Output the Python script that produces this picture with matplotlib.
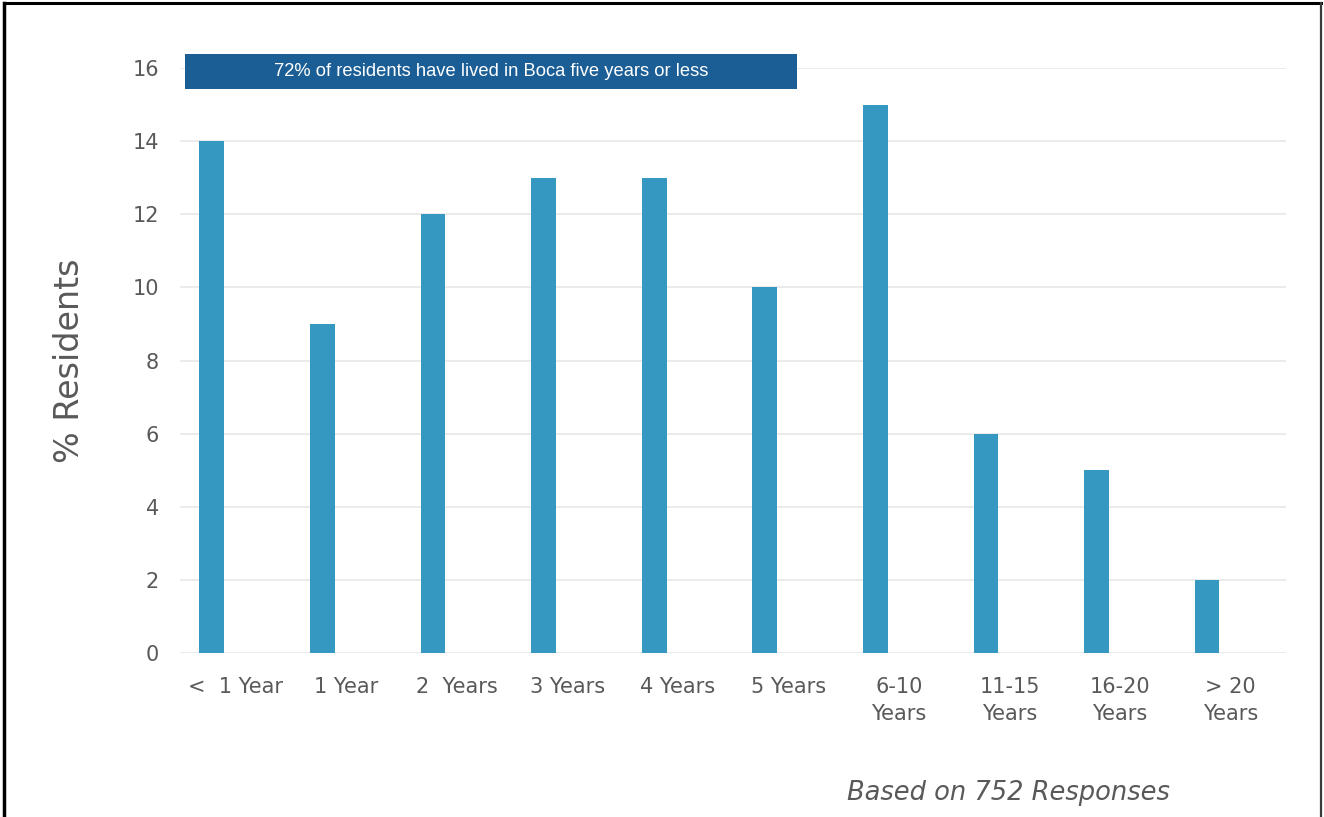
import matplotlib.pyplot as plt
from matplotlib.lines import Line2D
from matplotlib.patches import Rectangle

categories = ["<  1 Year", "1 Year", "2  Years", "3 Years", "4 Years", "5 Years",
              "6-10\nYears", "11-15\nYears", "16-20\nYears", "> 20\nYears"]
pct_residents = [14, 9, 12, 13, 13, 10, 15, 6, 5, 2]
y_ticks = [0, 2, 4, 6, 8, 10, 12, 14, 16]
banner_text = "72% of residents have lived in Boca five years or less"
footnote = "Based on 752 Responses"

text_grey = "#595959"
bar_blue = "#3598c1"
banner_blue = "#1b5e96"

fig = plt.figure(figsize=(13.24, 8.17), dpi=100)
ax = fig.add_axes([0.1360, 0.2007, 0.8353, 0.7161])

x = range(len(categories))
ax.bar([i - 0.213 for i in x], pct_residents, width=0.223, color=bar_blue, zorder=2)

ax.set_xlim(-0.5, len(categories) - 0.5)
ax.set_ylim(0, 16)
ax.set_yticks(y_ticks)
ax.set_xticks(list(x))
ax.set_xticklabels(categories, linespacing=1.45)
ax.tick_params(axis="both", length=0, labelsize=15, labelcolor=text_grey)
ax.tick_params(axis="y", pad=15)
ax.tick_params(axis="x", pad=17)
ax.grid(axis="y", color="#ebebeb", linewidth=1.4, zorder=0)
for s in ax.spines.values():
    s.set_visible(False)

ax.set_ylabel("% Residents", fontsize=24, color=text_grey)
ax.yaxis.set_label_coords(-0.085, 0.5)

# banner across the top-left of the plot area
ax.add_patch(Rectangle((-0.455, 15.43), 5.535, 0.95, facecolor=banner_blue,
                       edgecolor="none", clip_on=False, zorder=3))
ax.text(-0.455 + 5.535 / 2, 15.43 + 0.95 / 2, banner_text, color="white",
        fontsize=13.2, family=["Liberation Sans", "DejaVu Sans"],
        ha="center", va="center", zorder=4, clip_on=False)

fig.text(1008 / 1324, 1 - 793 / 817, footnote, fontsize=18.5, style="italic",
         color=text_grey, ha="center", va="center")

# outer frame: left, top and right edges
fig.add_artist(Line2D([0.0030, 0.0030], [0, 0.9965], color="black", linewidth=2.5,
                      transform=fig.transFigure))
fig.add_artist(Line2D([0.0030, 0.9980], [0.9965, 0.9965], color="black", linewidth=2.2,
                      transform=fig.transFigure))
fig.add_artist(Line2D([0.9980, 0.9980], [0, 0.9965], color="#3a3a3a", linewidth=1.6,
                      transform=fig.transFigure))

fig.savefig("out.png", dpi=100)
